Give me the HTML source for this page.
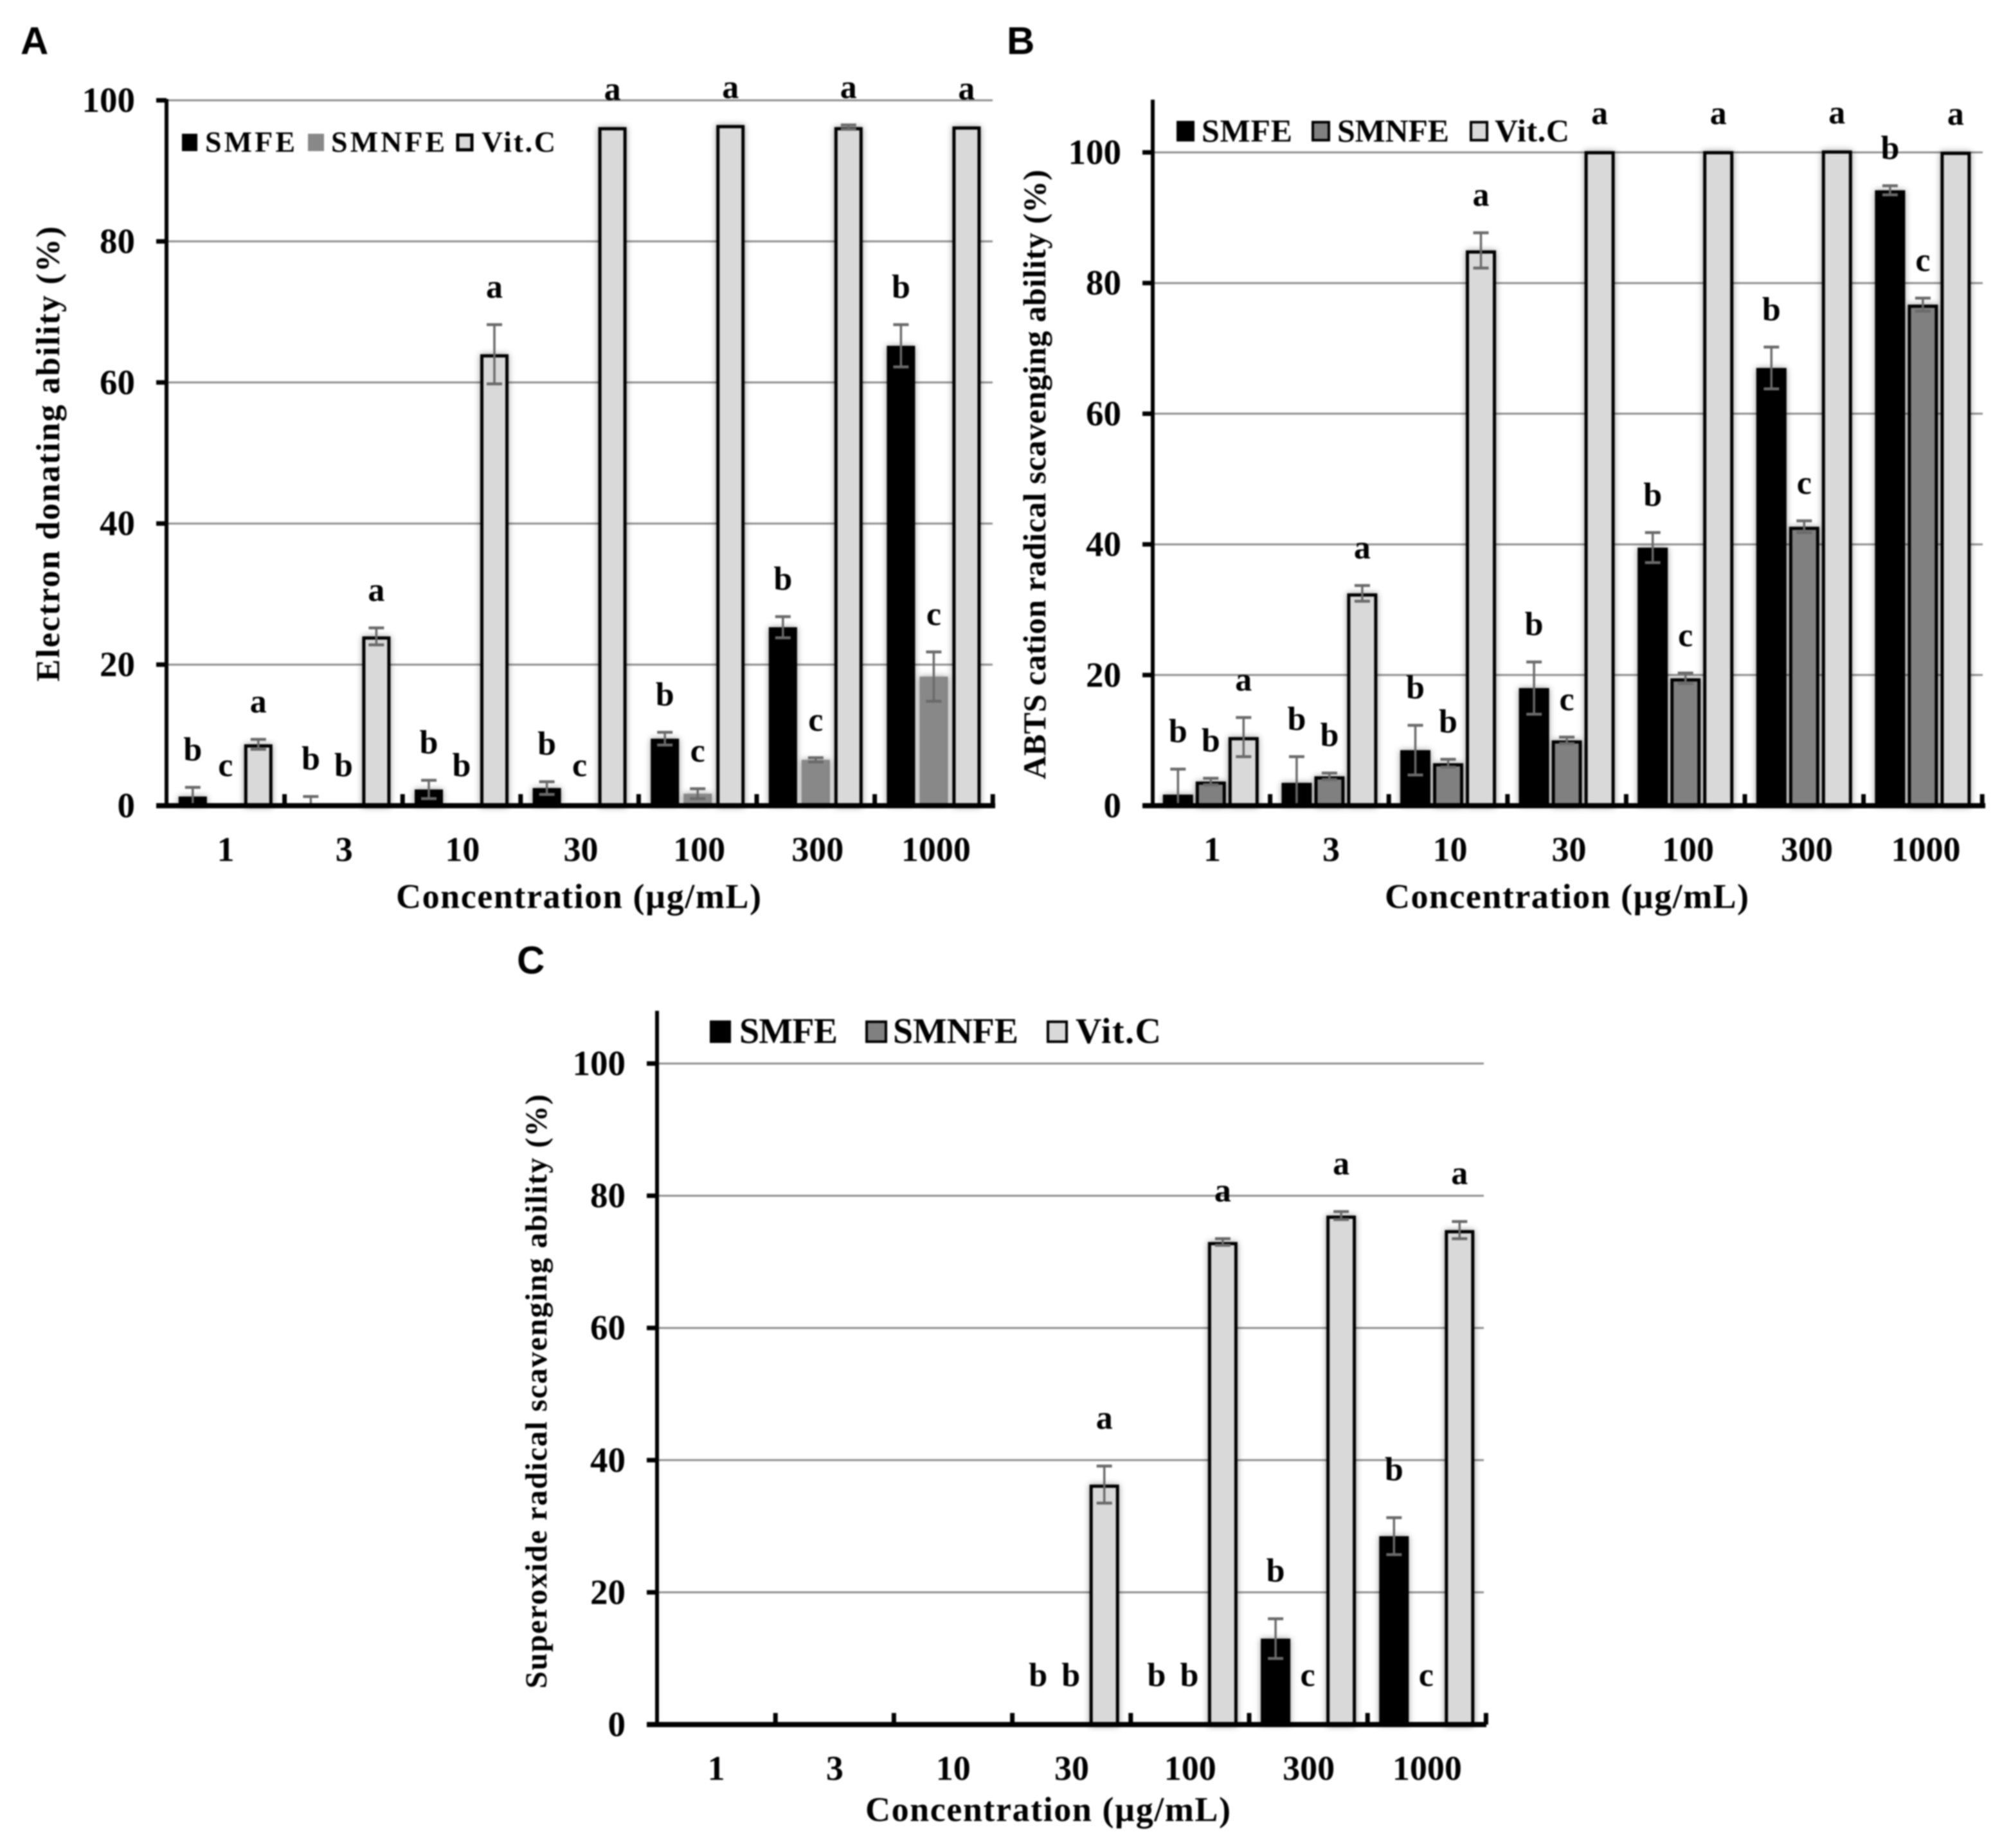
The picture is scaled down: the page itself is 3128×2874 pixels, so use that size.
<!DOCTYPE html>
<html lang="en">
<head>
<meta charset="utf-8">
<title>Antioxidant activity charts</title>
<style>
html,body{margin:0;padding:0;background:#fff;}
svg{display:block;filter:blur(1px);}
text{font-family:"Liberation Serif",serif;font-weight:bold;fill:#000;}
.panel{font-family:"Liberation Sans",sans-serif;font-size:60px;}
</style>
</head>
<body>
<svg id="figure" xmlns="http://www.w3.org/2000/svg" width="3128" height="2874" viewBox="0 0 3128 2874">
  <rect x="0" y="0" width="3128" height="2874" fill="#fff"/>
  <g id="chart-a"></g>
  <g id="chart-b"></g>
  <g id="chart-c"></g>

  <text class="panel" style="font-family:'Liberation Sans',sans-serif" x="32" y="84">A</text>
  <text class="panel" style="font-family:'Liberation Sans',sans-serif" x="1566" y="84">B</text>
  <text class="panel" style="font-family:'Liberation Sans',sans-serif" x="804" y="1514">C</text>

  <text x="616" y="1412" font-size="54" textLength="568" lengthAdjust="spacing">Concentration (µg/mL)</text>
  <text x="2160" y="1412" font-size="54" textLength="566" lengthAdjust="spacing" transform="translate(-6,0)">Concentration (µg/mL)</text>
  <text x="1346" y="2832" font-size="54" textLength="568" lengthAdjust="spacing">Concentration (µg/mL)</text>

  <text transform="translate(92,1060) rotate(-90)" font-size="52" textLength="708" lengthAdjust="spacing">Electron donating ability (%)</text>
  <text transform="translate(1626,1212) rotate(-90)" font-size="50" textLength="948" lengthAdjust="spacing">ABTS cation radical scavenging ability (%)</text>
  <text transform="translate(850,2626) rotate(-90)" font-size="48" textLength="924" lengthAdjust="spacing">Superoxide radical scavenging ability (%)</text>

  <g>
    <rect x="283" y="208" width="24" height="27" fill="#000"/>
    <text x="319" y="236" font-size="46" textLength="140" lengthAdjust="spacing">SMFE</text>
    <rect x="479" y="208" width="25" height="27" fill="#888"/>
    <text x="515" y="236" font-size="46" textLength="177" lengthAdjust="spacing">SMNFE</text>
    <rect x="712" y="210" width="22" height="23" fill="#d9d9d9" stroke="#000" stroke-width="5"/>
    <text x="749" y="236" font-size="46" textLength="115" lengthAdjust="spacing">Vit.C</text>
  </g>
  <g>
    <rect x="1830" y="188" width="28" height="32" fill="#000"/>
    <text x="1869" y="220" font-size="50" textLength="141" lengthAdjust="spacing">SMFE</text>
    <rect x="2042" y="190" width="25" height="28" fill="#808080" stroke="#000" stroke-width="4"/>
    <text x="2080" y="220" font-size="50" textLength="174" lengthAdjust="spacing">SMNFE</text>
    <rect x="2288" y="190" width="25" height="28" fill="#d9d9d9" stroke="#000" stroke-width="4"/>
    <text x="2325" y="220" font-size="50" textLength="116" lengthAdjust="spacing">Vit.C</text>
  </g>
  <g>
    <rect x="1104" y="1587" width="33" height="35" fill="#000"/>
    <text x="1150" y="1622" font-size="56" textLength="153" lengthAdjust="spacing">SMFE</text>
    <rect x="1348" y="1589" width="30" height="31" fill="#808080" stroke="#000" stroke-width="4"/>
    <text x="1389" y="1622" font-size="56" textLength="195" lengthAdjust="spacing">SMNFE</text>
    <rect x="1630" y="1589" width="29" height="31" fill="#d9d9d9" stroke="#000" stroke-width="4"/>
    <text x="1673" y="1622" font-size="56" textLength="133" lengthAdjust="spacing">Vit.C</text>
  </g>
</svg>
<script>
const categories = ['1', '3', '10', '30', '100', '300', '1000'];
const yTicksA = [0, 20, 40, 60, 80, 100];
const yTicksB = [0, 20, 40, 60, 80, 100];
const yTicksC = [0, 20, 40, 60, 80, 100];

const smfeA = [1.3, 0, 2.3, 2.5, 9.5, 25.3, 65.2];
const smfeErrA = [1.3, 1.3, 1.3, 0.9, 0.9, 1.5, 3.0];
const smnfeA = [0, 0, 0, 0, 1.7, 6.5, 18.3];
const smnfeErrA = [0, 0, 0, 0, 0.7, 0.3, 3.5];
const vitcA = [8.7, 24.0, 64.0, 96.2, 96.5, 96.2, 96.3];
const vitcErrA = [0.7, 1.2, 4.2, 0, 0, 0.3, 0];
const smfeLettersA = ['b', 'b', 'b', 'b', 'b', 'b', 'b'];
const smnfeLettersA = ['c', 'b', 'b', 'c', 'c', 'c', 'c'];
const vitcLettersA = ['a', 'a', 'a', 'a', 'a', 'a', 'a'];

const smfeB = [1.7, 3.5, 8.5, 18.0, 39.5, 67.0, 94.2];
const smfeErrB = [3.9, 4.0, 3.8, 4.0, 2.3, 3.2, 0.7];
const smnfeB = [3.7, 4.5, 6.5, 10.0, 19.5, 42.7, 76.7];
const smnfeErrB = [0.5, 0.5, 0.6, 0.5, 0.8, 0.9, 1.0];
const vitcB = [10.5, 32.5, 85.0, 100.2, 100.2, 100.3, 100.1];
const vitcErrB = [3.0, 1.2, 2.7, 0, 0, 0, 0];
const smfeLettersB = ['b', 'b', 'b', 'b', 'b', 'b', 'b'];
const smnfeLettersB = ['b', 'b', 'b', 'c', 'c', 'c', 'c'];
const vitcLettersB = ['a', 'a', 'a', 'a', 'a', 'a', 'a'];

const smfeC = [0, 0, 0, 0, 0, 13.0, 28.5];
const smfeErrC = [0, 0, 0, 0, 0, 3.0, 2.8];
const smnfeC = [0, 0, 0, 0, 0, 0, 0];
const smnfeErrC = [0, 0, 0, 0, 0, 0, 0];
const vitcC = [0, 0, 0, 36.3, 73.0, 77.0, 74.8];
const vitcErrC = [0, 0, 0, 2.8, 0.5, 0.6, 1.3];
const smfeLettersC = ['', '', '', 'b', 'b', 'b', 'b'];
const smnfeLettersC = ['', '', '', 'b', 'b', 'c', 'c'];
const vitcLettersC = ['', '', '', 'a', 'a', 'a', 'a'];

const SVGNS = 'http://www.w3.org/2000/svg';

function mk(parent, tag, props) {
  const el = document.createElementNS(SVGNS, tag);
  for (const k in props) el.setAttribute(k, props[k]);
  parent.appendChild(el);
  return el;
}

function drawChart(cfg) {
  const root = document.getElementById(cfg.id);
  const y = v => cfg.y0 - (v / 100) * (cfg.y0 - cfg.y100);
  const catW = (cfg.xEnd - cfg.x0) / categories.length;
  const labelX = i => cfg.x0 + catW * (i + 0.5);
  const groupX = i => cfg.barStart + cfg.barCat * (i + 0.5);

  cfg.ticks.forEach(t => {
    if (t === 0) return;
    const line = mk(root, 'line', { x1: cfg.x0, x2: cfg.xEnd - 4, y1: y(t), y2: y(t), stroke: '#8e8e8e', 'stroke-width': 3 });
    
    
  });

  cfg.series.forEach((s, si) => {
    categories.forEach((c, i) => {
      const val = s.values[i];
      if (val <= 0) return;
      const cx = groupX(i) + (si - 1) * cfg.step;
      const top = y(val);
      const inset = s.outline ? 2.5 : 0;
      const bar = mk(root, 'rect', {
        x: cx - cfg.barW / 2 + inset, y: top + inset,
        width: cfg.barW - inset * 2, height: Math.max(cfg.y0 - top - inset, 0),
        fill: s.fill, stroke: s.outline ? '#000' : 'none', 'stroke-width': s.outline ? 5 : 0
      });
      bar.setAttribute('style', 'filter:drop-shadow(0 0 5px rgba(0,0,0,.4))');
      
      
    });
  });

  cfg.series.forEach((s, si) => {
    categories.forEach((c, i) => {
      const err = s.errs[i];
      const cx = groupX(i) + (si - 1) * cfg.step;
      const hi = y(s.values[i] + err);
      const lo = y(Math.max(s.values[i] - err, 0));
      if (err > 0) {
        const stem = mk(root, 'line', { x1: cx, x2: cx, y1: hi, y2: lo, stroke: '#6a6a6a', 'stroke-width': 3.5 });
        
        
        const capTop = mk(root, 'line', { x1: cx - 12, x2: cx + 12, y1: hi, y2: hi, stroke: '#6a6a6a', 'stroke-width': 4.5 });
        
        
        if (s.values[i] - err > 0) {
          const capLow = mk(root, 'line', { x1: cx - 12, x2: cx + 12, y1: lo, y2: lo, stroke: '#6a6a6a', 'stroke-width': 4.5 });
          
          
        }
      }
      const letter = s.letters[i];
      if (letter) {
        const ly = (s.values[i] + err) > 0 ? hi - cfg.letterGap : cfg.y0 - cfg.zeroGap;
        const t = mk(root, 'text', { x: cx + (s.values[i] + err > 0 ? 0 : cfg.zeroShift), y: ly, 'font-size': 52, 'text-anchor': 'middle' });
        t.textContent = letter;
        
        
      }
    });
  });

  const yAxis = mk(root, 'line', { x1: cfg.x0, x2: cfg.x0, y1: cfg.yTop, y2: cfg.y0 + 4, stroke: '#000', 'stroke-width': 6 });
  
  
  const xAxis = mk(root, 'line', { x1: cfg.x0 - 16, x2: cfg.xEnd, y1: cfg.y0, y2: cfg.y0, stroke: '#000', 'stroke-width': 8 });
  
  

  cfg.ticks.forEach(t => {
    const mark = mk(root, 'line', { x1: cfg.x0 - 16, x2: cfg.x0, y1: y(t), y2: y(t), stroke: '#000', 'stroke-width': 7 });
    
    
    const lbl = mk(root, 'text', { x: cfg.x0 - 49, y: y(t) + 18, 'font-size': 55, 'text-anchor': 'end' });
    lbl.textContent = t;
    
    
  });

  categories.forEach((c, i) => {
    const edge = cfg.barStart + cfg.barCat * (i + 1);
    const mark = mk(root, 'line', { x1: edge, x2: edge, y1: cfg.y0 - 18, y2: cfg.y0, stroke: '#000', 'stroke-width': 7 });
    
    
    const lbl = mk(root, 'text', { x: labelX(i), y: cfg.labelY, 'font-size': 54, 'text-anchor': 'middle' });
    lbl.textContent = c;
    
    
  });
}

drawChart({
  id: 'chart-a', x0: 259, xEnd: 1548, y0: 1253, y100: 156, yTop: 154, labelY: 1339,
  barStart: 259, barCat: 183.6,
  step: 51, barW: 44, letterGap: 42, zeroGap: 46, zeroShift: 0, ticks: yTicksA,
  series: [
    { name: 'smfe', values: smfeA, errs: smfeErrA, letters: smfeLettersA, fill: '#000', outline: false },
    { name: 'smnfe', values: smnfeA, errs: smnfeErrA, letters: smnfeLettersA, fill: '#888', outline: false },
    { name: 'vitc', values: vitcA, errs: vitcErrA, letters: vitcLettersA, fill: '#d9d9d9', outline: true }
  ]
});
drawChart({
  id: 'chart-b', x0: 1793, xEnd: 3088, y0: 1253, y100: 237, yTop: 155, labelY: 1339,
  barStart: 1791, barCat: 184.6,
  step: 51, barW: 47, letterGap: 42, zeroGap: 46, zeroShift: 0, ticks: yTicksB,
  series: [
    { name: 'smfe', values: smfeB, errs: smfeErrB, letters: smfeLettersB, fill: '#000', outline: false },
    { name: 'smnfe', values: smnfeB, errs: smnfeErrB, letters: smnfeLettersB, fill: '#808080', outline: true },
    { name: 'vitc', values: vitcB, errs: vitcErrB, letters: vitcLettersB, fill: '#d9d9d9', outline: true }
  ]
});
drawChart({
  id: 'chart-c', x0: 1022, xEnd: 2312, y0: 2682, y100: 1654, yTop: 1572, labelY: 2768,
  barStart: 1022, barCat: 184.2,
  step: 51, barW: 46, letterGap: 58, zeroGap: 60, zeroShift: -1, ticks: yTicksC,
  series: [
    { name: 'smfe', values: smfeC, errs: smfeErrC, letters: smfeLettersC, fill: '#000', outline: false },
    { name: 'smnfe', values: smnfeC, errs: smnfeErrC, letters: smnfeLettersC, fill: '#808080', outline: true },
    { name: 'vitc', values: vitcC, errs: vitcErrC, letters: vitcLettersC, fill: '#d9d9d9', outline: true }
  ]
});
</script>
</body>
</html>
